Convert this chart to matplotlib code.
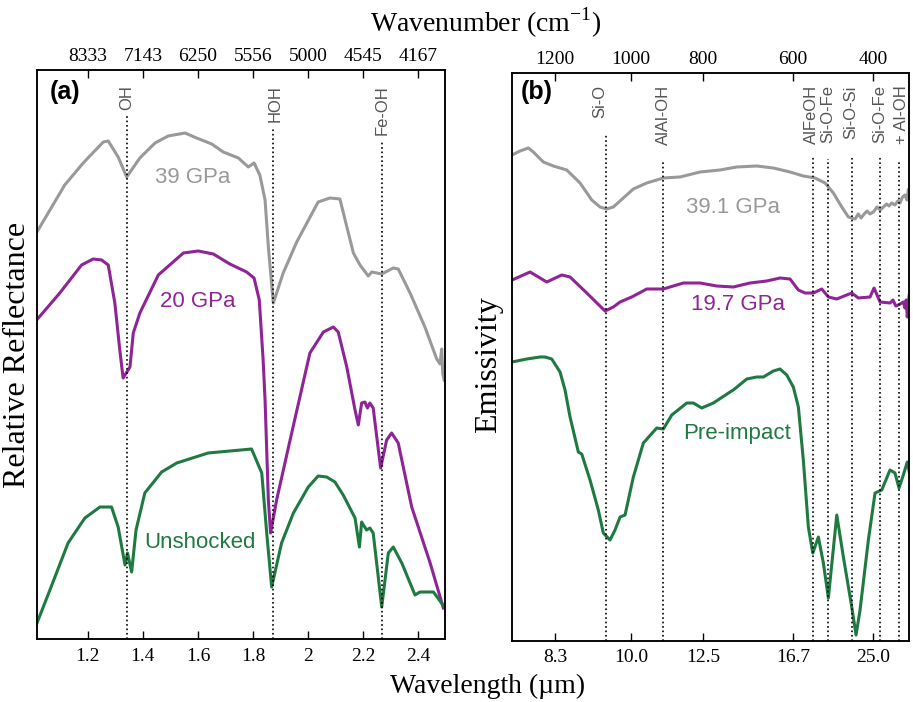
import numpy as np
import matplotlib as mpl
import matplotlib.pyplot as plt
mpl.use('Agg')

plt.rcParams['font.family'] = ['Liberation Serif', 'DejaVu Serif']
plt.rcParams['mathtext.fontset'] = 'custom'
plt.rcParams['mathtext.rm'] = 'Liberation Serif'

GRAY = '#999999'
PURPLE = '#8E2496'
GREEN = '#1F7A42'
SANS = ['Liberation Sans', 'DejaVu Sans']

# ---- panel (a): VNIR reflectance, x in micrometres, y arbitrary (offset) ----
wl_39 = [1.017, 1.116, 1.183, 1.256, 1.274, 1.310, 1.341, 1.389, 1.444, 1.492,
         1.553, 1.595, 1.650, 1.692, 1.747, 1.783, 1.804, 1.825, 1.844, 1.856,
         1.874, 1.910, 1.959, 2.037, 2.080, 2.116, 2.165, 2.189, 2.219, 2.232,
         2.268, 2.310, 2.328, 2.371, 2.425, 2.468, 2.480, 2.486, 2.490, 2.495]
r_39 = [40.8, 45.4, 47.6, 49.7, 49.8, 48.2, 46.2, 48.1, 49.6, 50.3,
        50.6, 50.1, 49.5, 48.7, 48.1, 47.2, 47.6, 46.4, 43.9, 39.2,
        33.6, 36.6, 39.7, 43.7, 44.1, 44.0, 38.6, 37.4, 36.3, 36.7,
        36.5, 37.1, 37.0, 34.6, 31.2, 28.0, 27.5, 29.0, 26.5, 25.9]

wl_20 = [1.017, 1.098, 1.177, 1.219, 1.250, 1.274, 1.298, 1.316, 1.328, 1.353,
         1.365, 1.377, 1.389, 1.456, 1.547, 1.601, 1.656, 1.716, 1.777, 1.804,
         1.823, 1.837, 1.844, 1.856, 1.864, 1.886, 1.935, 2.007, 2.056, 2.092,
         2.110, 2.141, 2.171, 2.183, 2.195, 2.207, 2.216, 2.225, 2.237, 2.264,
         2.286, 2.304, 2.328, 2.377, 2.444, 2.492]
r_20 = [32.0, 34.6, 37.4, 38.0, 37.9, 37.4, 33.6, 28.9, 26.1, 27.2,
        30.6, 31.6, 32.6, 36.4, 38.6, 38.8, 38.5, 37.5, 36.7, 36.1,
        33.9, 27.9, 23.9, 13.9, 10.6, 13.9, 19.9, 28.6, 30.7, 31.2,
        30.7, 27.2, 22.9, 21.4, 23.6, 23.7, 23.1, 23.6, 23.1, 17.1,
        19.9, 20.6, 19.6, 13.2, 7.6, 3.1]

wl_un = [1.015, 1.062, 1.128, 1.189, 1.244, 1.286, 1.310, 1.335, 1.344, 1.359,
         1.375, 1.407, 1.468, 1.523, 1.637, 1.795, 1.832, 1.850, 1.868, 1.904,
         1.947, 2.001, 2.037, 2.068, 2.098, 2.128, 2.171, 2.187, 2.195, 2.213,
         2.225, 2.237, 2.268, 2.292, 2.310, 2.341, 2.389, 2.407, 2.456, 2.496]
r_un = [1.6, 4.9, 9.6, 12.1, 13.2, 13.2, 11.2, 7.4, 8.6, 6.7,
        10.9, 14.6, 16.7, 17.6, 18.6, 19.0, 16.6, 10.6, 5.2, 9.6,
        12.6, 15.2, 16.3, 16.2, 15.7, 14.4, 12.1, 9.2, 11.7, 10.9,
        11.1, 10.6, 3.2, 8.6, 9.2, 7.6, 4.4, 4.7, 4.7, 3.2]

a_ticks = [1.2, 1.4, 1.6, 1.8, 2.0, 2.2, 2.4]
a_bottom_labels = ['1.2', '1.4', '1.6', '1.8', '2', '2.2', '2.4']
a_top_labels = ['8333', '7143', '6250', '5556', '5000', '4545', '4167']
a_bands = ['OH', 'HOH', 'Fe-OH']
a_band_x = [1.343, 1.872, 2.268]
a_band_top = [0.922, 0.901, 0.875]
a_band_label_x = [1.341, 1.880, 2.270]

# ---- panel (b): TIR emissivity, x in wavenumber (cm-1), y arbitrary (offset) ----
wn_39 = [1313, 1292.1, 1270.3, 1257.1, 1230.8, 1204.5, 1169.2, 1134.2, 1103.4, 1081.6,
         1063.9, 1046.6, 1020.3, 993.6, 956.4, 910.3, 863.9, 808.3, 762.2, 725.1,
         680.7, 643.8, 606.7, 574.3, 545, 520, 499.2, 478.2, 461.7, 445,
         437, 430, 424.2, 415, 408, 399.2, 390, 382, 374.2, 366,
         360, 353.2, 345, 338, 332.5, 326, 320, 315, 311.7]
e_39 = [48.5, 48.9, 49.2, 48.8, 47.8, 47.4, 47.0, 45.7, 44.0, 43.3,
        43.1, 43.3, 44.2, 45.1, 45.7, 46.2, 46.3, 46.8, 47.0, 47.3,
        47.4, 47.2, 46.8, 46.4, 46.2, 45.7, 44.7, 43.3, 42.3, 42.1,
        42.6, 42.2, 42.5, 42.9, 42.6, 42.8, 43.3, 43.0, 43.3, 43.6,
        43.4, 43.7, 43.5, 43.9, 43.7, 44.3, 44.5, 44.0, 45.0]

wn_20 = [1313, 1265.8, 1221.8, 1182.4, 1160.5, 1116.6, 1068.4, 1046.6, 1028.9, 998.1,
         956.4, 910.3, 854.7, 808.3, 769.6, 732.7, 695.6, 658.4, 628.9, 606.7,
         586.7, 570, 549.2, 528.2, 511.7, 490.7, 465.7, 453.2, 436.7, 407.5,
         397.5, 382.5, 357.5, 350, 343, 336.7, 324.2, 320, 317, 314.2, 309.2]
e_20 = [36.0, 36.8, 35.8, 36.5, 36.3, 34.7, 32.9, 33.3, 33.8, 34.3,
        35.1, 35.1, 35.7, 35.7, 35.4, 35.3, 35.7, 35.9, 36.2, 36.1,
        35.0, 34.7, 34.7, 35.1, 34.3, 34.1, 34.5, 34.7, 34.2, 34.3,
        35.2, 33.8, 33.7, 34.0, 33.4, 33.5, 33.8, 33.2, 34.0, 32.3, 34.5]

wn_pre = [1313, 1274.5, 1239.5, 1226.3, 1208.7, 1186.8, 1173.7, 1160.5, 1138.7, 1129.7,
          1107.9, 1086.1, 1072.9, 1055.3, 1042.1, 1028.9, 1015.8, 993.6, 965.8, 928.6,
          910.3, 886.9, 845.3, 826.9, 803.6, 777.1, 740, 732.7, 702.9, 680.7,
          666, 643.8, 628.9, 614, 599.3, 586.7, 574.3, 561.7, 550.7, 536.7,
          524.2, 511.7, 490.7, 474.2, 453.2, 442.5, 432.5, 411.7, 395, 378.2,
          357.5, 345, 335, 325.7, 314.2, 309]
e_pre = [27.8, 28.1, 28.3, 28.3, 28.1, 26.8, 25.0, 22.3, 18.8, 18.6,
         16.0, 13.0, 10.7, 10.0, 11.0, 12.3, 12.5, 16.3, 19.7, 21.2,
         21.1, 22.5, 23.7, 23.7, 23.2, 23.7, 24.8, 25.0, 26.1, 26.3,
         26.3, 26.9, 27.1, 26.5, 25.3, 23.3, 18.0, 11.3, 8.7, 10.3,
         7.7, 4.2, 12.5, 8.3, 3.3, 0.5, 3.0, 10.0, 14.7, 15.0,
         17.0, 16.7, 15.2, 16.3, 17.8, 16.8]

b_ticks = [1200, 1000, 800, 600, 400]
b_top_labels = ['1200', '1000', '800', '600', '400']
b_bottom_labels = ['8.3', '10.0', '12.5', '16.7', '25.0']
b_bands = ['Si-O', 'AlAl-OH', 'AlFeOH', 'Si-O-Fe', 'Si-O-Si', 'Si-O-Fe', '+ Al-OH']
b_band_x = [1065.8, 910, 550.8, 511.7, 453.2, 382.5, 335]
b_band_top = [0.891, 0.844, 0.853, 0.849, 0.853, 0.852, 0.847]
b_band_label_x = [1081.6, 910, 553, 512.5, 456, 382.5, 328]

# the wavenumber axis of panel (b) is not evenly spaced between its ticks;
# piecewise-linear scale through the tick positions (increasing with wavenumber)
wn_knots = [309, 400, 600, 800, 1000, 1200, 1314]
pos_knots = [-909.3, -873, -793, -703, -631, -555, -511.7]


def wn_forward(x):
    return np.interp(x, wn_knots, pos_knots)


def wn_inverse(p):
    return np.interp(p, pos_knots, wn_knots)


fig = plt.figure(figsize=(9.13, 7.02), dpi=100)
ax_a = fig.add_axes([0.0405, 0.0893, 0.4469, 0.8103])
ax_b = fig.add_axes([0.5605, 0.0873, 0.4355, 0.8083])


def style_axes(ax, top):
    for s in ax.spines.values():
        s.set_linewidth(1.1)
    ax.set_yticks([])
    ax.tick_params(axis='x', direction='in', length=5.5, width=1.0,
                   labelsize=14, pad=6 if not top else 4,
                   top=top, bottom=not top, labeltop=top, labelbottom=not top)


# panel a
ax_a.plot(wl_39, r_39, color=GRAY, lw=2.2)
ax_a.plot(wl_20, r_20, color=PURPLE, lw=2.2)
ax_a.plot(wl_un, r_un, color=GREEN, lw=2.2)
ax_a.set_xlim(1.015, 2.498)
ax_a.set_ylim(-0.03, 56.85)
for name, x, top, lx in zip(a_bands, a_band_x, a_band_top, a_band_label_x):
    ax_a.axvline(x, ymin=0, ymax=top, color='black', ls=':', lw=1.2)
    ax_a.text(lx, 0.9745, name, transform=ax_a.get_xaxis_transform(),
              rotation=90, ha='center', va='top', fontsize=12,
              color='#555555', family=SANS)
ax_a.text(1.582, 46.1, '39 GPa', color=GRAY, fontsize=16, ha='center', va='center', family=SANS)
ax_a.text(1.600, 33.7, '20 GPa', color=PURPLE, fontsize=16, ha='center', va='center', family=SANS)
ax_a.text(1.607, 9.7, 'Unshocked', color=GREEN, fontsize=16, ha='center', va='center', family=SANS)
ax_a.text(0.069, 0.962, '(a)', transform=ax_a.transAxes, fontsize=18,
          fontweight='bold', ha='center', va='center', family=SANS)
ax_a.set_xticks(a_ticks)
ax_a.set_xticklabels(a_bottom_labels)
style_axes(ax_a, top=False)

top_a = ax_a.twiny()
top_a.set_xlim(ax_a.get_xlim())
top_a.set_xticks(a_ticks)
top_a.set_xticklabels(a_top_labels)
style_axes(top_a, top=True)

# panel b
ax_b.set_xscale('function', functions=(wn_forward, wn_inverse))
ax_b.plot(wn_39, e_39, color=GRAY, lw=2.2)
ax_b.plot(wn_20, e_20, color=PURPLE, lw=2.2)
ax_b.plot(wn_pre, e_pre, color=GREEN, lw=2.2)
ax_b.set_xlim(1314, 309)
ax_b.set_ylim(-0.07, 56.67)
for name, x, top, lx in zip(b_bands, b_band_x, b_band_top, b_band_label_x):
    ax_b.axvline(x, ymin=0, ymax=top, color='black', ls=':', lw=1.2)
    ax_b.text(lx, 0.979, name, transform=ax_b.get_xaxis_transform(),
              rotation=90, ha='center', va='top', fontsize=12,
              color='#555555', family=SANS)
ax_b.text(732.7, 43.2, '39.1 GPa', color=GRAY, fontsize=16, ha='center', va='center', family=SANS)
ax_b.text(721.6, 33.5, '19.7 GPa', color=PURPLE, fontsize=16, ha='center', va='center', family=SANS)
ax_b.text(723.8, 20.7, 'Pre-impact', color=GREEN, fontsize=16, ha='center', va='center', family=SANS)
ax_b.text(0.063, 0.9676, '(b)', transform=ax_b.transAxes, fontsize=18,
          fontweight='bold', ha='center', va='center', family=SANS)
ax_b.set_xticks(b_ticks)
ax_b.set_xticklabels(b_bottom_labels)
ax_b.minorticks_off()
style_axes(ax_b, top=False)

top_b = ax_b.twiny()
top_b.set_xscale('function', functions=(wn_forward, wn_inverse))
top_b.set_xlim(ax_b.get_xlim())
top_b.set_xticks(b_ticks)
top_b.set_xticklabels(b_top_labels)
top_b.minorticks_off()
style_axes(top_b, top=True)

# shared labels
fig.text(0.532, 0.9544, r'Wavenumber (cm$^{\mathrm{-1}}$)', fontsize=20,
         ha='center', va='baseline')
fig.text(0.534, 0.0228, 'Wavelength (\u00b5m)', fontsize=20, ha='center', va='center')
fig.text(0.019, 0.494, 'Relative Reflectance', fontsize=23, rotation=90,
         ha='center', va='center')
fig.text(0.5356, 0.48, 'Emissivity', fontsize=23, rotation=90,
         ha='center', va='center')

fig.savefig('out.png', dpi=100)
